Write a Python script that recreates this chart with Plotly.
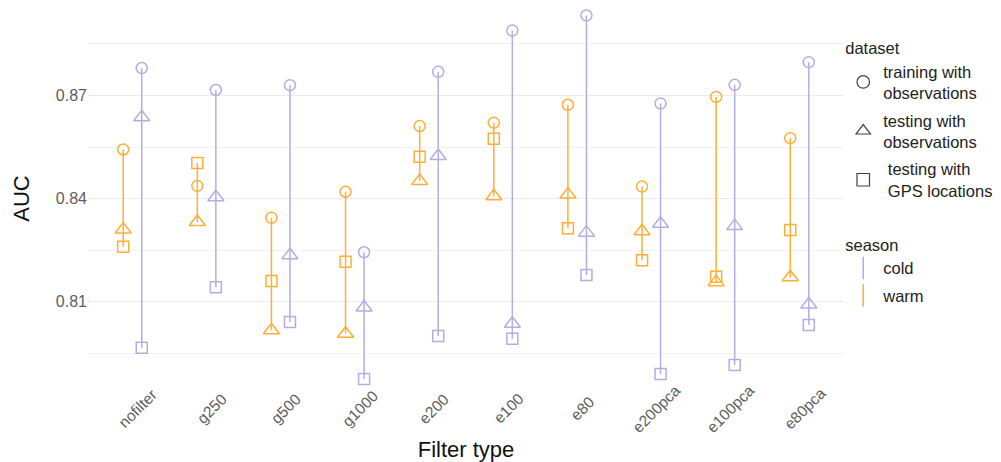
import plotly.graph_objects as go

categories = ["nofilter", "g250", "g500", "g1000", "e200", "e100", "e80",
              "e200pca", "e100pca", "e80pca"]

# warm season
warm_training = [0.8543, 0.8437, 0.8344, 0.8420, 0.8611, 0.8621, 0.8673, 0.8435, 0.8696, 0.8576]
warm_test_obs = [0.8310, 0.8332, 0.8017, 0.8007, 0.8451, 0.8407, 0.8412, 0.8305, 0.8157, 0.8171]
warm_test_gps = [0.8260, 0.8504, 0.8160, 0.8216, 0.8522, 0.8574, 0.8314, 0.8221, 0.8173, 0.8309]

# cold season
cold_training = [0.8780, 0.8716, 0.8730, 0.8244, 0.8769, 0.8889, 0.8933, 0.8677, 0.8731, 0.8797]
cold_test_obs = [0.8637, 0.8404, 0.8235, 0.8083, 0.8524, 0.8036, 0.8301, 0.8327, 0.8320, 0.8092]
cold_test_gps = [0.7966, 0.8142, 0.8041, 0.7875, 0.8000, 0.7992, 0.8178, 0.7890, 0.7916, 0.8032]

dataset_labels = ["training with<br>observations", "testing with<br>observations",
                  "\u00a0testing with<br>\u00a0GPS locations"]
season_labels = ["cold", "warm"]
y_ticks = [0.81, 0.84, 0.87]

COLD = "#b5ade2"
WARM = "#ffae36"
FONT = "Liberation Sans, Arial, sans-serif"
symbols = ["circle-open", "triangle-up-open", "square-open"]
sizes = [11, 14, 11]
DODGE = 0.125

fig = go.Figure()

seasons = [
    ("warm", WARM, -DODGE, [warm_training, warm_test_obs, warm_test_gps]),
    ("cold", COLD, DODGE, [cold_training, cold_test_obs, cold_test_gps]),
]

# vertical ranges
for name, color, off, series in seasons:
    xs, ys = [], []
    for i in range(len(categories)):
        vals = [s[i] for s in series]
        xs += [i + off, i + off, None]
        ys += [min(vals), max(vals), None]
    fig.add_trace(go.Scatter(x=xs, y=ys, mode="lines",
                             line=dict(color=color, width=1.5),
                             showlegend=False, hoverinfo="skip"))

# points
for name, color, off, series in seasons:
    for k, s in enumerate(series):
        fig.add_trace(go.Scatter(
            x=[i + off for i in range(len(categories))], y=s, mode="markers",
            marker=dict(symbol=symbols[k], size=sizes[k], color=color,
                        line=dict(color=color, width=1.5)),
            showlegend=False, name=f"{name} {dataset_labels[k]}"))

# legend: dataset
for k, lab in enumerate(dataset_labels):
    fig.add_trace(go.Scatter(
        x=[None], y=[None], mode="markers", name=lab, legend="legend",
        legendgroup=f"d{k}",
        marker=dict(symbol=symbols[k], size=12.5, color="#404040",
                    line=dict(color="#404040", width=1.2))))

# legend: season
for lab, color in zip(season_labels, [COLD, WARM]):
    fig.add_trace(go.Scatter(
        x=[None], y=[None], mode="markers", name=lab, legend="legend2",
        legendgroup=lab,
        marker=dict(symbol="line-ns-open", size=16, color=color,
                    line=dict(color=color, width=1.5))))

# category labels under the axis, centred and rotated
for i, c in enumerate(categories):
    fig.add_annotation(x=i, y=0, yref="paper", text=c, showarrow=False,
                       textangle=-45, xanchor="center", yanchor="middle",
                       xshift=5, yshift=-11,
                       font=dict(family=FONT, size=15.5, color="#5e5e5e"))

fig.update_layout(
    width=1001, height=462,
    margin=dict(l=88, r=156.5, t=0, b=65),
    paper_bgcolor="white", plot_bgcolor="white",
    font=dict(family=FONT, size=16, color="#222222"),
    xaxis=dict(range=[-0.6, 9.6], showgrid=False, zeroline=False,
               showticklabels=False, ticks="", showline=False,
               title=dict(text="Filter type", standoff=44,
                          font=dict(family=FONT, size=22, color="#111111")),
               automargin=False),
    yaxis=dict(range=[0.78228, 0.89779], tickvals=y_ticks,
               ticktext=[f"{v:.2f}" for v in y_ticks],
               showgrid=True, gridcolor="#ebebeb", gridwidth=1,
               zeroline=False, showline=False, ticks="",
               tickfont=dict(family=FONT, size=16, color="#5e5e5e"),
               minor=dict(tickvals=[0.795, 0.825, 0.855, 0.885],
                          showgrid=True, gridcolor="#f2f2f2", gridwidth=1),
               title=dict(text="AUC", standoff=20,
                          font=dict(family=FONT, size=22, color="#111111")),
               automargin=False),
    legend=dict(title=dict(text="dataset", font=dict(size=16.5)),
                x=0.999, xanchor="left", y=0.918, yanchor="top",
                font=dict(family=FONT, size=16.5, color="#222222"),
                tracegroupgap=3, bgcolor="rgba(0,0,0,0)"),
    legend2=dict(title=dict(text="season", font=dict(size=16.5)),
                 x=0.999, xanchor="left", y=0.4224, yanchor="top",
                 font=dict(family=FONT, size=16.5, color="#222222"),
                 tracegroupgap=3, bgcolor="rgba(0,0,0,0)"),
    showlegend=True,
)

fig.write_html("out.html", config={"displayModeBar": False},
               post_script="document.body.style.margin='0';document.body.style.overflow='hidden';")
